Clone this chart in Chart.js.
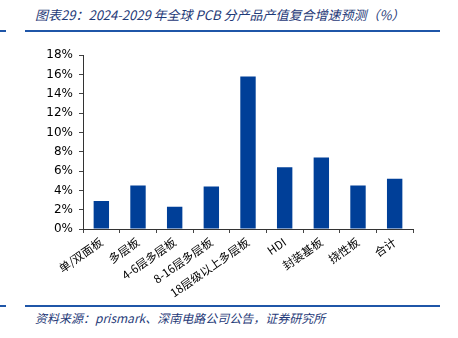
<!DOCTYPE html>
<html>
<head>
<meta charset="utf-8">
<script src="https://cdn.jsdelivr.net/npm/chart.js@4"></script>
<style>
  body { margin:0; background:#fff; width:458px; height:338px; overflow:hidden; position:relative; font-family:"Noto Sans CJK SC", sans-serif; }
  .title { position:absolute; left:35px; top:5px; font-size:13px; font-style:italic; color:#1f3a78; white-space:nowrap; }
  .rule { position:absolute; height:2px; background:#1f56a8; }
  .src { position:absolute; left:35px; top:309px; font-size:12px; font-style:italic; color:#1f3a78; white-space:nowrap; }
  #wrap { position:absolute; left:0; top:42px; width:458px; height:258px; }
</style>
</head>
<body>
<div class="title">图表29：2024-2029 年全球 PCB 分产品产值复合增速预测（%）</div>
<div class="rule" style="left:0;top:30px;width:6px"></div>
<div class="rule" style="left:25px;top:30px;width:415px"></div>
<div class="rule" style="left:0;top:305px;width:6px"></div>
<div class="rule" style="left:25px;top:305px;width:415px"></div>
<div class="src">资料来源：prismark、深南电路公司公告，证券研究所</div>
<div id="wrap"><canvas id="chart"></canvas></div>
<script>
var categories = ["单/双面板", "多层板", "4-6层多层板", "8-16层多层板", "18层级以上多层板", "HDI", "封装基板", "挠性板", "合计"];
var growth = [2.9, 4.5, 2.3, 4.4, 15.8, 6.4, 7.4, 4.5, 5.2];
var yTicks = [0, 2, 4, 6, 8, 10, 12, 14, 16, 18];

var ctx = document.getElementById("chart");
var chart = new Chart(ctx, {
    type: 'bar',
    data: {
        labels: categories,
        datasets: [{
            data: growth,
            backgroundColor: '#003f98',
            borderWidth: 0,
            barPercentage: 0.42,
            categoryPercentage: 1
        }]
    },
    options: {
        responsive: true,
        maintainAspectRatio: false,
        animation: false,
        layout: { padding: { top: 0, right: 45, left: 0, bottom: 0 } },
        plugins: { legend: { display: false }, tooltip: { enabled: false } },
        scales: {
            x: {
                offset: true,
                grid: { offset: true, drawOnChartArea: false, color: '#444', tickLength: 4 },
                border: { color: '#333', width: 1 },
                ticks: {
                    color: '#000',
                    font: { size: 11.5, family: '"Noto Sans CJK SC", sans-serif' },
                    minRotation: 35, maxRotation: 35, padding: 2
                },
                afterFit: function(scale) { scale.height = 71; }
            },
            y: {
                min: 0, max: 18,
                afterBuildTicks: function(scale) {
                    scale.ticks = yTicks.map(function(v) { return { value: v }; });
                },
                grid: { drawOnChartArea: false, color: '#444', tickLength: 4 },
                border: { color: '#333', width: 1 },
                ticks: {
                    color: '#000',
                    font: { size: 12, family: '"DejaVu Sans", sans-serif' },
                    padding: 6,
                    callback: function(v) { return v + '%'; }
                },
                afterFit: function(scale) { scale.width = 83; }
            }
        }
    }
});
</script>
</body>
</html>
